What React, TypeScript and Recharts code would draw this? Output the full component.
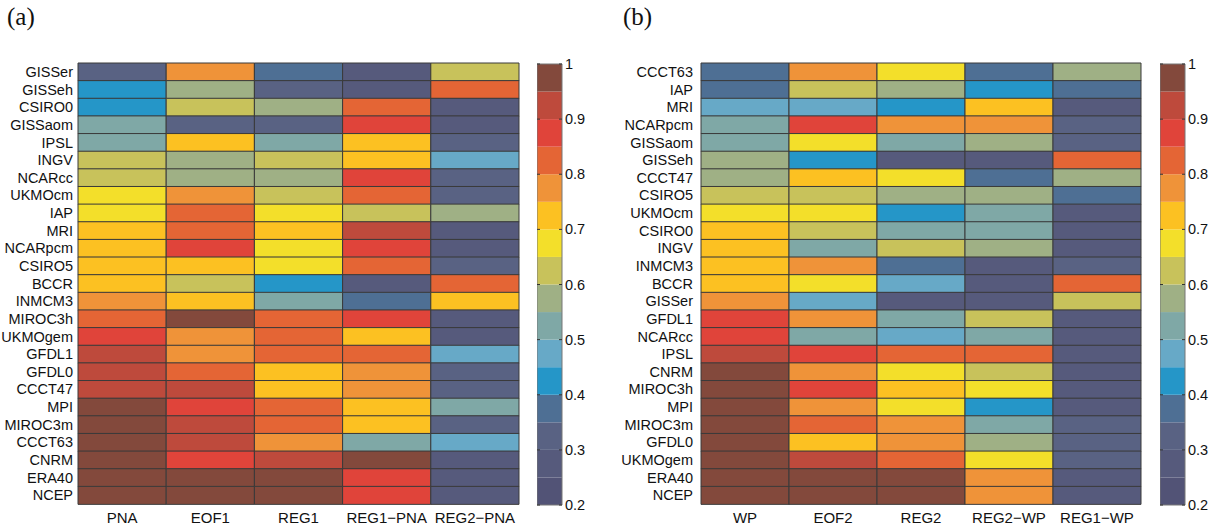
import React from 'react';
import { BarChart, Bar, Cell, XAxis, YAxis, ComposedChart, Line, ReferenceArea } from 'recharts';

// panel (a): models top to bottom, patterns left to right
const modelsA = [
  'GISSer', 'GISSeh', 'CSIRO0', 'GISSaom', 'IPSL', 'INGV', 'NCARcc', 'UKMOcm', 'IAP', 'MRI',
  'NCARpcm', 'CSIRO5', 'BCCR', 'INMCM3', 'MIROC3h', 'UKMOgem', 'GFDL1', 'GFDL0', 'CCCT47', 'MPI',
  'MIROC3m', 'CCCT63', 'CNRM', 'ERA40', 'NCEP',
];
const colsA = ['PNA', 'EOF1', 'REG1', 'REG1\u2212PNA', 'REG2\u2212PNA'];
const pnaA = [0.32, 0.42, 0.42, 0.52, 0.52, 0.62, 0.62, 0.68, 0.68, 0.72, 0.72, 0.72, 0.72, 0.78, 0.82, 0.87, 0.92, 0.92, 0.92, 0.97, 0.97, 0.97, 0.97, 0.98, 0.98];
const eof1A = [0.78, 0.58, 0.62, 0.32, 0.72, 0.58, 0.58, 0.78, 0.82, 0.82, 0.87, 0.72, 0.62, 0.72, 0.97, 0.78, 0.78, 0.82, 0.92, 0.87, 0.92, 0.92, 0.87, 0.98, 0.98];
const reg1A = [0.38, 0.32, 0.58, 0.32, 0.52, 0.62, 0.58, 0.62, 0.68, 0.72, 0.68, 0.68, 0.42, 0.52, 0.82, 0.82, 0.82, 0.72, 0.72, 0.82, 0.82, 0.78, 0.92, 0.98, 0.98];
const reg1PnaA = [0.28, 0.28, 0.82, 0.87, 0.72, 0.72, 0.87, 0.82, 0.62, 0.92, 0.87, 0.82, 0.28, 0.38, 0.87, 0.72, 0.82, 0.78, 0.78, 0.72, 0.72, 0.52, 0.97, 0.87, 0.87];
const reg2PnaA = [0.62, 0.82, 0.28, 0.28, 0.32, 0.48, 0.32, 0.32, 0.58, 0.28, 0.28, 0.32, 0.82, 0.72, 0.28, 0.28, 0.48, 0.32, 0.32, 0.52, 0.32, 0.48, 0.28, 0.28, 0.28];

// panel (b)
const modelsB = [
  'CCCT63', 'IAP', 'MRI', 'NCARpcm', 'GISSaom', 'GISSeh', 'CCCT47', 'CSIRO5', 'UKMOcm', 'CSIRO0',
  'INGV', 'INMCM3', 'BCCR', 'GISSer', 'GFDL1', 'NCARcc', 'IPSL', 'CNRM', 'MIROC3h', 'MPI',
  'MIROC3m', 'GFDL0', 'UKMOgem', 'ERA40', 'NCEP',
];
const colsB = ['WP', 'EOF2', 'REG2', 'REG2\u2212WP', 'REG1\u2212WP'];
const wpB = [0.38, 0.38, 0.48, 0.52, 0.52, 0.58, 0.58, 0.62, 0.68, 0.72, 0.72, 0.72, 0.72, 0.78, 0.87, 0.87, 0.92, 0.97, 0.97, 0.97, 0.97, 0.97, 0.97, 0.98, 0.98];
const eof2B = [0.78, 0.62, 0.48, 0.87, 0.68, 0.42, 0.72, 0.62, 0.68, 0.62, 0.52, 0.78, 0.68, 0.48, 0.78, 0.52, 0.87, 0.78, 0.87, 0.78, 0.82, 0.72, 0.92, 0.98, 0.98];
const reg2B = [0.68, 0.58, 0.42, 0.78, 0.52, 0.28, 0.68, 0.58, 0.42, 0.52, 0.62, 0.38, 0.48, 0.28, 0.52, 0.48, 0.82, 0.68, 0.72, 0.68, 0.78, 0.78, 0.82, 0.98, 0.98];
const reg2WpB = [0.38, 0.42, 0.72, 0.78, 0.58, 0.28, 0.38, 0.58, 0.52, 0.52, 0.58, 0.28, 0.28, 0.28, 0.62, 0.52, 0.82, 0.62, 0.68, 0.42, 0.52, 0.58, 0.68, 0.78, 0.78];
const reg1WpB = [0.58, 0.38, 0.28, 0.32, 0.32, 0.82, 0.58, 0.38, 0.28, 0.28, 0.28, 0.32, 0.82, 0.62, 0.28, 0.28, 0.28, 0.28, 0.28, 0.28, 0.32, 0.32, 0.32, 0.28, 0.28];

// colour scale, 0.2 .. 1 in steps of 0.05
const levelColors = [
  '#525376', '#565a7c', '#596283', '#4e6f94', '#2596c8', '#67a9c7', '#7fa8a6', '#9fb085',
  '#c8c25b', '#f3df2a', '#fcc122', '#ef9339', '#e46535', '#e0443a', '#be4a3c', '#83493c',
];
const cbTicks = [0.2, 0.3, 0.4, 0.5, 0.6, 0.7, 0.8, 0.9, 1];

const font = 'Liberation Sans, Arial, sans-serif';

function colorFor(v: number) {
  const i = Math.min(15, Math.max(0, Math.floor((v - 0.2) / 0.05 + 1e-9)));
  return levelColors[i];
}

function Heatmap({ models, cols, series, left, yWidth, right, labelGap }: any) {
  const data = models.map((m: string, i: number) => {
    const row: any = { model: m };
    cols.forEach((_c: string, j: number) => {
      row['v' + j] = series[j][i];
      row['w' + j] = 1;
    });
    return row;
  });
  return (
    <div style={{ position: 'absolute', left, top: 0 }}>
      <BarChart
        layout="vertical"
        width={540}
        height={526}
        data={data}
        margin={{ top: 63, right, left: 0, bottom: 0 }}
        barCategoryGap={0}
        barGap={0}
      >
        <XAxis
          type="number"
          domain={[0, 5]}
          ticks={[0.5, 1.5, 2.5, 3.5, 4.5]}
          tickFormatter={(v: number) => cols[Math.floor(v)]}
          axisLine={false}
          tickLine={false}
          tickSize={0}
          tickMargin={8}
          interval={0}
          height={22}
          tick={{ fontSize: 15, fill: '#111', fontFamily: font }}
        />
        <YAxis
          type="category"
          dataKey="model"
          width={yWidth}
          axisLine={false}
          tickLine={false}
          tickSize={0}
          tickMargin={labelGap}
          interval={0}
          tick={{ fontSize: 14.5, fill: '#111', fontFamily: font }}
        />
        {cols.map((c: string, j: number) => (
          <Bar
            key={c}
            dataKey={'w' + j}
            stackId="cells"
            isAnimationActive={false}
            stroke="#3a3a3a"
            strokeWidth={1}
          >
            {data.map((row: any, i: number) => (
              <Cell key={i} fill={colorFor(row['v' + j])} />
            ))}
          </Bar>
        ))}
      </BarChart>
    </div>
  );
}

const CbTick = (props: any) => {
  const { x, y, payload } = props;
  const edge = x - 3;
  const v = Math.round(payload.value * 10) / 10;
  return (
    <g>
      <line x1={edge - 25} x2={edge - 22} y1={y} y2={y} stroke="#333" />
      <line x1={edge - 3} x2={edge} y1={y} y2={y} stroke="#333" />
      <text x={x} y={y} dy="0.35em" fontSize={14.5} fontFamily={font} fill="#111" textAnchor="start">
        {String(v)}
      </text>
    </g>
  );
};

// end points so the chart has a series to lay its axes out from
const cbSpan = [
  { x: 0, y: 0.2 },
  { x: 1, y: 1 },
];

function ColorBar({ left }: { left: number }) {
  return (
    <div style={{ position: 'absolute', left, top: 0 }}>
      <ComposedChart width={62} height={526} data={cbSpan} margin={{ top: 64, right: 0, left: 0, bottom: 21 }}>
        <XAxis type="number" dataKey="x" domain={[0, 1]} hide />
        <YAxis
          type="number"
          orientation="right"
          domain={[0.2, 1]}
          ticks={cbTicks}
          width={37}
          axisLine={false}
          tickLine={false}
          tickSize={0}
          tickMargin={3}
          interval={0}
          tick={<CbTick />}
        />
        {levelColors.map((c, i) => (
          <ReferenceArea
            key={i}
            x1={0}
            x2={1}
            y1={0.2 + 0.05 * i}
            y2={0.2 + 0.05 * (i + 1)}
            fill={c}
            fillOpacity={1}
            stroke="none"
            ifOverflow="visible"
          />
        ))}
        <ReferenceArea x1={0} x2={1} y1={0.2} y2={1} fill="none" fillOpacity={0} stroke="#777" strokeWidth={1} ifOverflow="visible" />
        <Line dataKey="y" stroke="none" dot={false} activeDot={false} isAnimationActive={false} />
      </ComposedChart>
    </div>
  );
}

const panelLabel: React.CSSProperties = {
  position: 'absolute',
  top: 3,
  fontFamily: 'Liberation Serif, Times New Roman, serif',
  fontSize: 25,
  color: '#111',
};

export default function App() {
  return (
    <div style={{ position: 'absolute', left: 0, top: 0, width: 1220, height: 526, background: '#fff', overflow: 'hidden' }}>
      <div style={{ ...panelLabel, left: 7 }}>(a)</div>
      <div style={{ ...panelLabel, left: 623 }}>(b)</div>
      <Heatmap
        models={modelsA}
        cols={colsA}
        series={[pnaA, eof1A, reg1A, reg1PnaA, reg2PnaA]}
        left={0}
        yWidth={78}
        right={21}
        labelGap={5}
      />
      <ColorBar left={537} />
      <Heatmap
        models={modelsB}
        cols={colsB}
        series={[wpB, eof2B, reg2B, reg2WpB, reg1WpB]}
        left={620}
        yWidth={81}
        right={19}
        labelGap={8}
      />
      <ColorBar left={1160} />
    </div>
  );
}
